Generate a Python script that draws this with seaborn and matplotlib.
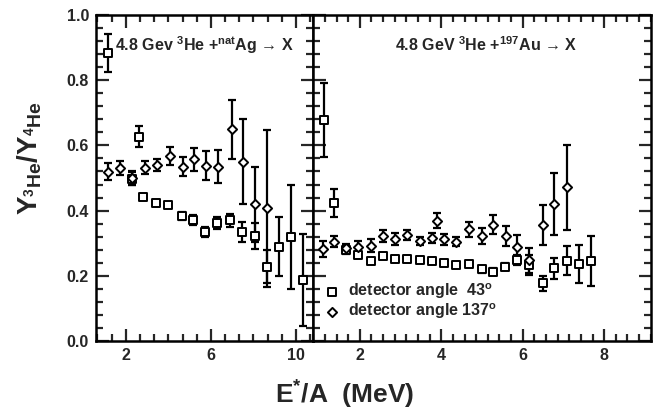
import numpy as np
import pandas as pd
import matplotlib
matplotlib.use("Agg")
import matplotlib.pyplot as plt
import seaborn as sns
from matplotlib.ticker import FixedLocator, MultipleLocator

# ---------------- data ----------------
# natAg, detector angle 43 deg (squares)
ag43_x = [1.15, 2.28, 2.62, 2.82, 3.42, 4.00, 4.63, 5.17, 5.72, 6.30, 6.90, 7.48, 8.08, 8.63, 9.20, 9.77, 10.35]
ag43_y = [0.883, 0.497, 0.627, 0.443, 0.422, 0.417, 0.383, 0.371, 0.335, 0.361, 0.371, 0.335, 0.322, 0.228, 0.289, 0.318, 0.187]
ag43_e = [0.058, 0.020, 0.033, 0.008, 0.008, 0.010, 0.012, 0.015, 0.015, 0.018, 0.020, 0.030, 0.040, 0.050, 0.090, 0.160, 0.140]
# natAg, detector angle 137 deg (diamonds)
ag137_x = [1.18, 1.73, 2.30, 2.90, 3.48, 4.08, 4.68, 5.22, 5.77, 6.32, 6.98, 7.50, 8.08, 8.63]
ag137_y = [0.519, 0.530, 0.500, 0.532, 0.540, 0.568, 0.535, 0.557, 0.538, 0.535, 0.649, 0.550, 0.419, 0.407]
ag137_e = [0.026, 0.022, 0.020, 0.020, 0.017, 0.028, 0.030, 0.035, 0.044, 0.050, 0.090, 0.130, 0.115, 0.240]
# 197Au, detector angle 43 deg (squares)
au43_x = [1.12, 1.37, 1.66, 1.96, 2.27, 2.56, 2.86, 3.17, 3.48, 3.78, 4.07, 4.35, 4.69, 5.00, 5.27, 5.56, 5.87, 6.16, 6.49, 6.78, 7.08, 7.39, 7.67]
au43_y = [0.678, 0.422, 0.279, 0.264, 0.245, 0.261, 0.251, 0.252, 0.248, 0.246, 0.238, 0.233, 0.236, 0.220, 0.213, 0.228, 0.248, 0.233, 0.177, 0.223, 0.246, 0.236, 0.246]
au43_e = [0.113, 0.043, 0.012, 0.010, 0.008, 0.008, 0.006, 0.006, 0.006, 0.006, 0.007, 0.007, 0.008, 0.010, 0.012, 0.010, 0.015, 0.031, 0.023, 0.033, 0.045, 0.057, 0.077]
# 197Au, detector angle 137 deg (diamonds)
au137_x = [1.09, 1.37, 1.66, 1.96, 2.27, 2.56, 2.86, 3.17, 3.48, 3.78, 3.89, 4.07, 4.35, 4.69, 5.00, 5.28, 5.58, 5.87, 6.16, 6.49, 6.78, 7.08]
au137_y = [0.282, 0.305, 0.284, 0.289, 0.292, 0.322, 0.312, 0.325, 0.307, 0.317, 0.369, 0.312, 0.305, 0.343, 0.322, 0.356, 0.322, 0.289, 0.248, 0.356, 0.420, 0.471]
au137_e = [0.025, 0.017, 0.015, 0.018, 0.020, 0.018, 0.018, 0.015, 0.013, 0.015, 0.023, 0.017, 0.015, 0.023, 0.024, 0.029, 0.032, 0.037, 0.038, 0.061, 0.095, 0.130]

left_xticks = [2, 6, 10]
right_xticks = [2, 4, 6, 8]
yticks = [0.0, 0.2, 0.4, 0.6, 0.8, 1.0]
label_43 = r"detector angle  43$^{\mathbf{o}}$"
label_137 = r"detector angle 137$^{\mathbf{o}}$"

# ---------------- style ----------------
sns.set_style("ticks")
plt.rcParams["font.family"] = ["Liberation Sans", "DejaVu Sans"]
plt.rcParams["font.weight"] = "bold"
plt.rcParams["mathtext.fontset"] = "custom"
plt.rcParams["mathtext.rm"] = "Liberation Sans:bold"
plt.rcParams["mathtext.it"] = "Liberation Sans:bold"
plt.rcParams["mathtext.bf"] = "Liberation Sans:bold"
plt.rcParams["mathtext.sf"] = "Liberation Sans:bold"
plt.rcParams["mathtext.default"] = "bf"

fig = plt.figure(figsize=(6.57, 4.12), dpi=100)
gs = fig.add_gridspec(1, 2, width_ratios=[217, 338], wspace=0,
                      left=96/657, right=651/657, bottom=71/412, top=397/412)
axL = fig.add_subplot(gs[0])
axR = fig.add_subplot(gs[1])


def draw(ax, x43, y43, e43, x137, y137, e137, legend=False):
    d43 = pd.DataFrame({"x": x43, "y": y43, "e": e43})
    d137 = pd.DataFrame({"x": x137, "y": y137, "e": e137})
    for d in (d137, d43):
        ax.errorbar(d["x"], d["y"], yerr=d["e"], fmt="none", ecolor="black",
                    elinewidth=1.6, capsize=2.8, capthick=1.6, zorder=2)
    sns.scatterplot(data=d43, x="x", y="y", marker="s", s=28, color="white",
                    edgecolor="black", linewidth=1.4, ax=ax, zorder=3,
                    label=label_43 if legend else None, legend=legend)
    sns.scatterplot(data=d137, x="x", y="y", marker="D", s=22, color="white",
                    edgecolor="black", linewidth=1.4, ax=ax, zorder=3,
                    label=label_137 if legend else None, legend=legend)


draw(axL, ag43_x, ag43_y, ag43_e, ag137_x, ag137_y, ag137_e)
draw(axR, au43_x, au43_y, au43_e, au137_x, au137_y, au137_e, legend=True)

axL.set_xlim(0.6, 10.8)
axR.set_xlim(0.85, 9.15)
for ax in (axL, axR):
    ax.set_ylim(0, 1.0)
    ax.set_xlabel("")
    ax.set_ylabel("")
    ax.yaxis.set_major_locator(FixedLocator(yticks))
    ax.yaxis.set_minor_locator(MultipleLocator(0.04))
    ax.tick_params(which="both", direction="in", top=True, right=True,
                   width=1.6, labelsize=11.5)
    ax.tick_params(which="major", length=9, pad=5)
    ax.tick_params(which="minor", length=5)
    for sp in ax.spines.values():
        sp.set_linewidth(1.8)
        sp.set_color("black")

axL.xaxis.set_major_locator(FixedLocator(left_xticks))
axL.xaxis.set_minor_locator(FixedLocator([2 + k * 2 / 3 for k in range(-2, 14)]))
axL.set_yticklabels([f"{v:.1f}" for v in yticks])
axR.xaxis.set_major_locator(FixedLocator(right_xticks))
axR.xaxis.set_minor_locator(FixedLocator([2 + k * 2 / 7 for k in range(-4, 26)]))
axR.tick_params(labelleft=False)

axL.text(0.088, 0.908, "4.8 Gev $^{3}$He +$^{nat}$Ag \u2192 X",
         transform=axL.transAxes, ha="left", va="center", fontsize=11.5, fontweight="bold")
axR.text(0.243, 0.908, "4.8 GeV $^{3}$He +$^{197}$Au \u2192 X",
         transform=axR.transAxes, ha="left", va="center", fontsize=11.5, fontweight="bold")

leg = axR.legend(frameon=False, loc="center left", bbox_to_anchor=(0.0, 0.122),
                 handletextpad=0.5, labelspacing=0.05, handlelength=1.0,
                 borderaxespad=0.3, fontsize=11.5)
for t in leg.get_texts():
    t.set_fontweight("bold")

fig.text(30/657, 1 - 158/412, r"Y$_{^{3}He}$/Y$_{^{4}He}$", rotation=90,
         ha="center", va="center", fontsize=20, fontweight="bold")
fig.text(345/657, 1 - 395/412, r"E$^{*}$/A  (MeV)", ha="center", va="center",
         fontsize=19, fontweight="bold")

fig.savefig("out.png", dpi=100)
